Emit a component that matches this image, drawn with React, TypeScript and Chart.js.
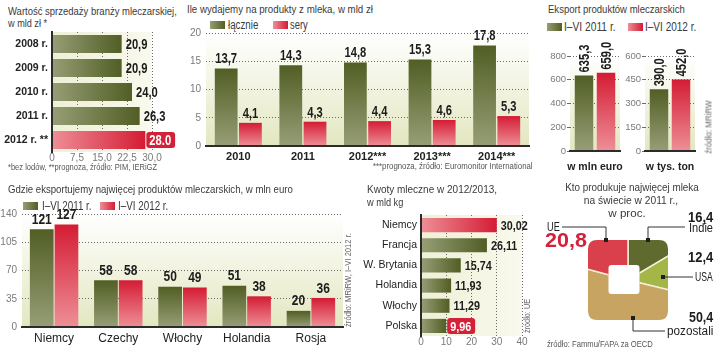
import React, { useEffect, useLayoutEffect, useRef } from 'react';
import { Chart, registerables } from 'chart.js';

Chart.register(...registerables);

const FONT = '"Liberation Sans", Arial, sans-serif';
Chart.defaults.font.family = FONT;

// ---------- DATA ----------
// 1. Wartość sprzedaży branży mleczarskiej
const salesYears = ['2008 r.', '2009 r.', '2010 r.', '2011 r.', '2012 r. **'];
const salesValues = [20.9, 20.9, 24.0, 26.3, 28.0];
const salesLabels = ['20,9', '20,9', '24,0', '26,3', '28.0'];
const salesTicks = ['0', '7,5', '15,0', '22,5', '30,0'];

// 2. Ile wydajemy na produkty z mleka
const spendYears = ['2010', '2011', '2012***', '2013***', '2014***'];
const spendTotal = [13.7, 14.3, 14.8, 15.3, 17.8];
const spendCheese = [4.1, 4.3, 4.4, 4.6, 5.3];

// 3. Eksport produktów mleczarskich
const exportEuroCat = ['w mln euro'];
const exportEuro2011 = [635.3];
const exportEuro2012 = [659.0];
const exportTonCat = ['w tys. ton'];
const exportTon2011 = [390.0];
const exportTon2012 = [452.0];

// 4. Gdzie eksportujemy
const destCountries = ['Niemcy', 'Czechy', 'Włochy', 'Holandia', 'Rosja'];
const dest2011 = [121, 58, 50, 51, 20];
const dest2012 = [127, 58, 49, 38, 36];

// 5. Kwoty mleczne
const quotaCountries = ['Niemcy', 'Francja', 'W. Brytania', 'Holandia', 'Włochy', 'Polska'];
const quotaValues = [30.02, 26.11, 15.74, 11.93, 11.29, 9.96];

// 6. Kto produkuje najwięcej mleka
const prodRegions = ['Indie', 'USA', 'pozostali', 'UE'];
const prodShares = [16.4, 12.4, 50.4, 20.8];

// ---------- STYLE ----------
const GREEN: [string, string] = ['#515e24', '#979e76'];
const RED: [string, string] = ['#d41c34', '#ee8f97'];
const RED_BOX = '#d3213a';
const PIE_COLORS = ['#5e6a2e', '#a5b648', '#c8a462', '#d9404c'];
const TICK_COLOR = '#7a7a7a';
const GRID_COLOR = '#6a6a6a';
const AXIS_COLOR = '#2b2b2b';
const CONDENSE = 0.8;

const f1 = (v: number) => v.toFixed(1).replace('.', ',');
const f2 = (v: number) => v.toFixed(2).replace('.', ',');
const f0 = (v: number) => String(Math.round(v));

function vGrad(c: any, col: [string, string]) {
  const chart = c.chart;
  const y = chart.scales && chart.scales.y;
  if (c.type !== 'data' || !chart.chartArea || !y) return col[0];
  const v = c.raw as number;
  const top = y.getPixelForValue(v);
  const bottom = y.getPixelForValue(0);
  if (!isFinite(top) || !isFinite(bottom) || top === bottom) return col[0];
  const g = chart.ctx.createLinearGradient(0, top, 0, bottom);
  g.addColorStop(0, col[0]);
  g.addColorStop(1, col[1]);
  return g;
}

function hGrad(c: any, col: [string, string]) {
  const chart = c.chart;
  const x = chart.scales && chart.scales.x;
  if (c.type !== 'data' || !chart.chartArea || !x) return col[0];
  const v = c.raw as number;
  const left = x.getPixelForValue(0);
  const right = x.getPixelForValue(v);
  if (!isFinite(left) || !isFinite(right) || left === right) return col[0];
  const g = chart.ctx.createLinearGradient(left, 0, right, 0);
  g.addColorStop(0, col[1]);
  g.addColorStop(1, col[0]);
  return g;
}

function rrPath(ctx: CanvasRenderingContext2D, x: number, y: number, w: number, h: number, r: number) {
  ctx.moveTo(x + r, y);
  ctx.lineTo(x + w - r, y);
  ctx.quadraticCurveTo(x + w, y, x + w, y + r);
  ctx.lineTo(x + w, y + h - r);
  ctx.quadraticCurveTo(x + w, y + h, x + w - r, y + h);
  ctx.lineTo(x + r, y + h);
  ctx.quadraticCurveTo(x, y + h, x, y + h - r);
  ctx.lineTo(x, y + r);
  ctx.quadraticCurveTo(x, y, x + r, y);
  ctx.closePath();
}

function bgPlugin(dir: 'v' | 'h') {
  return {
    id: 'bgfill',
    beforeDraw(chart: any) {
      const { ctx, chartArea: a } = chart;
      if (!a) return;
      let g;
      if (dir === 'v') {
        g = ctx.createLinearGradient(0, a.top, 0, a.bottom);
        g.addColorStop(0, '#ffffff');
        g.addColorStop(1, '#e3e7c0');
      } else {
        g = ctx.createLinearGradient(a.left, 0, a.right, 0);
        g.addColorStop(0, '#eef0d6');
        g.addColorStop(1, '#f9f9ee');
      }
      ctx.save();
      ctx.fillStyle = g;
      ctx.fillRect(a.left, a.top, a.right - a.left, a.bottom - a.top);
      ctx.restore();
    },
  };
}

type ValCfg = { texts: string[][]; mode: 'top' | 'right' | 'rot'; font: string; hi?: [number, number][] };
function valuePlugin(cfg: ValCfg) {
  return {
    id: 'values',
    afterDatasetsDraw(chart: any) {
      const ctx: CanvasRenderingContext2D = chart.ctx;
      chart.data.datasets.forEach((_: any, di: number) => {
        chart.getDatasetMeta(di).data.forEach((el: any, i: number) => {
          const txt = cfg.texts[di][i];
          ctx.save();
          ctx.font = cfg.font;
          ctx.fillStyle = '#1c1c1c';
          if (cfg.mode === 'top') {
            ctx.translate(el.x, el.y - 2);
            ctx.scale(CONDENSE, 1);
            ctx.textAlign = 'center';
            ctx.textBaseline = 'bottom';
            ctx.fillText(txt, 0, 0);
          } else if (cfg.mode === 'rot') {
            ctx.translate(el.x, el.y - 3);
            ctx.rotate(-Math.PI / 2);
            ctx.scale(CONDENSE, 1);
            ctx.textAlign = 'left';
            ctx.textBaseline = 'middle';
            ctx.fillText(txt, 0, 1);
          } else {
            const hi = cfg.hi && cfg.hi.some(([d, j]) => d === di && j === i);
            ctx.textAlign = 'left';
            ctx.textBaseline = 'middle';
            const w = ctx.measureText(txt).width * CONDENSE;
            if (hi) {
              ctx.fillStyle = RED_BOX;
              ctx.beginPath();
              rrPath(ctx, el.x + 1, el.y - 8, w + 7, 16, 3);
              ctx.fill();
              ctx.fillStyle = '#ffffff';
            }
            ctx.translate(el.x + 4, el.y + 1);
            ctx.scale(CONDENSE, 1);
            ctx.fillText(txt, 0, 0);
          }
          ctx.restore();
        });
      });
    },
  };
}

const hideZero = (c: any) => (c.tick && c.tick.value === 0 ? 'rgba(0,0,0,0)' : GRID_COLOR);
const tickFont = { size: 10, family: FONT };
const base = {
  responsive: false,
  animation: false as const,
  devicePixelRatio: 1,
  events: [] as any[],
};
const noPlugins = { legend: { display: false }, tooltip: { enabled: false } };
const noRot = { maxRotation: 0, minRotation: 0, autoSkip: false };
const fixWidth = (w: number) => (s: any) => {
  s.width = w;
  s.paddingTop = 0;
  s.paddingBottom = 0;
};

// ---------- CHART CONFIGS ----------
function makeSales(): any {
  return {
    type: 'bar',
    data: {
      labels: salesYears,
      datasets: [
        {
          data: salesValues,
          backgroundColor: (c: any) => hGrad(c, c.dataIndex === salesValues.length - 1 ? RED : GREEN),
          categoryPercentage: 1,
          barPercentage: 0.74,
          borderWidth: 0,
        },
      ],
    },
    options: {
      ...base,
      indexAxis: 'y',
      layout: { padding: { top: 7, right: 28, left: 0, bottom: 0 } },
      plugins: noPlugins,
      scales: {
        x: {
          min: 0,
          max: 30,
          ticks: { ...noRot, stepSize: 7.5, callback: (_v: any, i: number) => salesTicks[i], font: tickFont, color: TICK_COLOR, padding: 0 },
          grid: { color: hideZero, drawTicks: false },
          border: { display: false, dash: [1, 2] },
          afterFit: (s: any) => { s.height = 18; },
        },
        y: {
          ticks: { font: { size: 10.5, weight: 'bold', family: FONT }, color: '#222', padding: 4 },
          grid: { display: false, drawTicks: false },
          border: { display: true, color: AXIS_COLOR, width: 2, z: 1 },
          afterFit: fixWidth(52),
        },
      },
    },
    plugins: [
      bgPlugin('h'),
      valuePlugin({ texts: [salesLabels], mode: 'right', font: `bold 14px ${FONT}`, hi: [[0, salesValues.length - 1]] }),
    ],
  };
}

function makeSpend(): any {
  return {
    type: 'bar',
    data: {
      labels: spendYears,
      datasets: [
        { label: 'łącznie', data: spendTotal, backgroundColor: (c: any) => vGrad(c, GREEN), categoryPercentage: 0.75, barPercentage: 0.94, borderWidth: 0 },
        { label: 'sery', data: spendCheese, backgroundColor: (c: any) => vGrad(c, RED), categoryPercentage: 0.75, barPercentage: 0.94, borderWidth: 0 },
      ],
    },
    options: {
      ...base,
      layout: { padding: { top: 13, right: 3, left: 0, bottom: 0 } },
      plugins: noPlugins,
      scales: {
        x: {
          grid: { display: false, drawTicks: false },
          border: { display: true, color: AXIS_COLOR, width: 2, z: 1 },
          ticks: { ...noRot, font: { size: 11, weight: 'bold', family: FONT }, color: '#222', padding: 4 },
          afterFit: (s: any) => { s.height = 24; },
        },
        y: {
          min: 0,
          max: 20,
          ticks: { stepSize: 5, font: tickFont, color: TICK_COLOR, padding: 5 },
          grid: { color: hideZero, drawTicks: false },
          border: { display: false, dash: [1, 2] },
          afterFit: (s: any) => { s.width = 26; },
        },
      },
    },
    plugins: [
      bgPlugin('v'),
      valuePlugin({ texts: [spendTotal.map(f1), spendCheese.map(f1)], mode: 'top', font: `bold 14px ${FONT}` }),
    ],
  };
}

function makeExport(cat: string[], d1: number[], d2: number[], max: number, step: number, padL: number, padR: number): any {
  return {
    type: 'bar',
    data: {
      labels: cat,
      datasets: [
        { label: 'I–VI 2011 r.', data: d1, backgroundColor: (c: any) => vGrad(c, GREEN), categoryPercentage: 0.88, barPercentage: 0.84, borderWidth: 0 },
        { label: 'I–VI 2012 r.', data: d2, backgroundColor: (c: any) => vGrad(c, RED), categoryPercentage: 0.88, barPercentage: 0.84, borderWidth: 0 },
      ],
    },
    options: {
      ...base,
      layout: { padding: { top: 26, right: padR, left: 0, bottom: 0 } },
      plugins: noPlugins,
      scales: {
        x: {
          grid: { display: false, drawTicks: false },
          border: { display: true, color: AXIS_COLOR, width: 2, z: 1 },
          ticks: { ...noRot, font: { size: 10.5, weight: 'bold', family: FONT }, color: '#222', padding: 10 },
          afterFit: (s: any) => { s.height = 29; },
        },
        y: {
          min: 0,
          max,
          ticks: { stepSize: step, font: { size: 9.5, family: FONT }, color: TICK_COLOR, padding: 1 },
          grid: { color: hideZero, drawTicks: true, tickLength: 3, tickColor: GRID_COLOR },
          border: { display: false, dash: [1, 2] },
          afterFit: (s: any) => { s.width = padL; },
        },
      },
    },
    plugins: [
      bgPlugin('v'),
      valuePlugin({ texts: [d1.map(f1), d2.map(f1)], mode: 'rot', font: `bold 14px ${FONT}` }),
    ],
  };
}

function makeDest(): any {
  return {
    type: 'bar',
    data: {
      labels: destCountries,
      datasets: [
        { label: 'I–VI 2011 r.', data: dest2011, backgroundColor: (c: any) => vGrad(c, GREEN), categoryPercentage: 0.77, barPercentage: 0.96, borderWidth: 0 },
        { label: 'I–VI 2012 r.', data: dest2012, backgroundColor: (c: any) => vGrad(c, RED), categoryPercentage: 0.77, barPercentage: 0.96, borderWidth: 0 },
      ],
    },
    options: {
      ...base,
      layout: { padding: { top: 14, right: 9, left: 0, bottom: 0 } },
      plugins: noPlugins,
      scales: {
        x: {
          grid: { display: false, drawTicks: false },
          border: { display: true, color: AXIS_COLOR, width: 2, z: 1 },
          ticks: { ...noRot, font: { size: 12, family: FONT }, color: '#222', padding: 4 },
          afterFit: (s: any) => { s.height = 23; },
        },
        y: {
          min: 0,
          max: 140,
          ticks: { stepSize: 35, font: tickFont, color: TICK_COLOR, padding: 5 },
          grid: { color: hideZero, drawTicks: false },
          border: { display: false, dash: [1, 2] },
          afterFit: (s: any) => { s.width = 22; },
        },
      },
    },
    plugins: [
      bgPlugin('v'),
      valuePlugin({ texts: [dest2011.map(f0), dest2012.map(f0)], mode: 'top', font: `bold 15px ${FONT}` }),
    ],
  };
}

function makeQuota(): any {
  return {
    type: 'bar',
    data: {
      labels: quotaCountries,
      datasets: [
        {
          data: quotaValues,
          backgroundColor: (c: any) => hGrad(c, c.dataIndex === 0 ? RED : GREEN),
          categoryPercentage: 1,
          barPercentage: 0.7,
          borderWidth: 0,
        },
      ],
    },
    options: {
      ...base,
      indexAxis: 'y',
      layout: { padding: { top: 5, right: 8, left: 0, bottom: 0 } },
      plugins: noPlugins,
      scales: {
        x: {
          min: 0,
          max: 40,
          ticks: { ...noRot, stepSize: 10, font: tickFont, color: TICK_COLOR, padding: 0 },
          grid: { color: hideZero, drawTicks: false },
          border: { display: false, dash: [1, 2] },
          afterFit: (s: any) => { s.height = 14; },
        },
        y: {
          ticks: { font: { size: 10.5, family: FONT }, color: '#222', padding: 4 },
          grid: { display: false, drawTicks: false },
          border: { display: true, color: AXIS_COLOR, width: 2, z: 1 },
          afterFit: fixWidth(61),
        },
      },
    },
    plugins: [
      bgPlugin('h'),
      valuePlugin({ texts: [quotaValues.map(f2)], mode: 'right', font: `bold 13.5px ${FONT}`, hi: [[0, quotaValues.length - 1]] }),
    ],
  };
}

const ringClip = {
  id: 'ringClip',
  beforeDatasetsDraw(chart: any) {
    const ctx: CanvasRenderingContext2D = chart.ctx;
    const arc = chart.getDatasetMeta(0).data[0];
    if (!arc) return;
    const cx = arc.x;
    const cy = arc.y;
    ctx.save();
    ctx.beginPath();
    rrPath(ctx, cx - 40, cy - 40, 80, 80, 9);
    rrPath(ctx, cx - 19.5, cy - 15, 31, 29, 3);
    ctx.clip('evenodd');
  },
  afterDatasetsDraw(chart: any) {
    chart.ctx.restore();
  },
};

function makeProd(): any {
  return {
    type: 'pie',
    data: {
      labels: prodRegions,
      datasets: [{ data: prodShares, backgroundColor: PIE_COLORS, borderColor: '#f6eed6', borderWidth: 1.5 }],
    },
    options: {
      ...base,
      layout: { padding: 0 },
      plugins: noPlugins,
    },
    plugins: [ringClip],
  };
}

// ---------- COMPONENTS ----------
function ChartCanvas({ x, y, w, h, make }: { x: number; y: number; w: number; h: number; make: () => any }) {
  const ref = useRef<HTMLCanvasElement>(null);
  useEffect(() => {
    const chart = new Chart(ref.current as HTMLCanvasElement, make());
    return () => chart.destroy();
  }, []);
  return <canvas ref={ref} width={w} height={h} style={{ position: 'absolute', left: x, top: y, width: w, height: h }} />;
}

// Text fitted horizontally to the width it has in the reference (emulates the narrow newspaper font)
function T({ x, y, w, children, size = 11, bold = false, color = '#3a3a3a', align = 'left' }: any) {
  const ref = useRef<HTMLDivElement>(null);
  const pre = align === 'center' ? 'translateX(-50%) ' : '';
  useLayoutEffect(() => {
    const el = ref.current;
    if (!el || !w) return;
    const actual = el.offsetWidth;
    if (actual > 0) el.style.transform = `${pre}scaleX(${w / actual})`;
  }, []);
  const style: any = {
    position: 'absolute',
    top: y - size * 0.6,
    fontSize: size,
    lineHeight: `${size * 1.2}px`,
    fontWeight: bold ? 700 : 400,
    color,
    whiteSpace: 'nowrap',
    fontFamily: FONT,
    transform: pre || undefined,
    transformOrigin: align === 'left' ? 'left center' : align === 'right' ? 'right center' : 'center center',
  };
  if (align === 'left') style.left = x;
  else if (align === 'right') style.right = 720 - x;
  else style.left = x;
  return (
    <div ref={ref} style={style}>
      {children}
    </div>
  );
}

function R({ x, y, len, children, size = 9 }: any) {
  const ref = useRef<HTMLDivElement>(null);
  useLayoutEffect(() => {
    const el = ref.current;
    if (!el) return;
    const actual = el.offsetWidth;
    if (actual > 0) el.style.transform = `translate(-50%, -50%) rotate(-90deg) scaleX(${len / actual})`;
  }, []);
  return (
    <div
      ref={ref}
      style={{
        position: 'absolute',
        left: x,
        top: y,
        fontSize: size,
        lineHeight: `${size + 2}px`,
        color: '#666',
        whiteSpace: 'nowrap',
        fontFamily: FONT,
        transform: 'translate(-50%, -50%) rotate(-90deg)',
      }}
    >
      {children}
    </div>
  );
}

function Sw({ x, y, col }: { x: number; y: number; col: [string, string] }) {
  return (
    <div
      style={{
        position: 'absolute',
        left: x,
        top: y - 4,
        width: 15,
        height: 8,
        background: `linear-gradient(to right, ${col[1]}, ${col[0]})`,
      }}
    />
  );
}

export default function App() {
  return (
    <div style={{ position: 'absolute', left: 0, top: 0, width: 720, height: 359, background: '#fff', overflow: 'hidden', fontFamily: FONT }}>
      {/* Chart 1 */}
      <T x={8} y={12} w={169}>Wartość sprzedaży branży mleczarskiej,</T>
      <T x={8} y={24} w={39}>w mld zł *</T>
      <ChartCanvas x={0} y={25} w={180} h={145} make={makeSales} />
      <T x={8} y={167} w={149} size={9} color="#555">*bez lodów, **prognoza, źródło: PIM, IERiGZ</T>

      {/* Chart 2 */}
      <T x={187} y={10} w={186}>Ile wydajemy na produkty z mleka, w mld zł</T>
      <Sw x={210} y={25} col={GREEN} />
      <T x={228} y={25} w={30} size={12}>łącznie</T>
      <Sw x={273} y={25} col={RED} />
      <T x={290} y={25} w={18} size={12}>sery</T>
      <ChartCanvas x={180} y={20} w={352} h={150} make={makeSpend} />
      <T x={533} y={166} w={160} size={9} color="#555" align="right">***prognoza, źródło: Euromonitor International</T>

      {/* Chart 3 */}
      <T x={548} y={10} w={137}>Eksport produktów mleczarskich</T>
      <Sw x={547} y={27} col={GREEN} />
      <T x={564} y={27} w={52} size={12}>I–VI 2011 r.</T>
      <Sw x={628} y={27} col={RED} />
      <T x={645} y={27} w={51} size={12}>I–VI 2012 r.</T>
      <ChartCanvas x={540} y={30} w={110} h={150} make={() => makeExport(exportEuroCat, exportEuro2011, exportEuro2012, 800, 200, 30, 30)} />
      <ChartCanvas x={615} y={30} w={105} h={150} make={() => makeExport(exportTonCat, exportTon2011, exportTon2012, 600, 150, 30, 25)} />
      <R x={709} y={127} len={53}>źródło: MRiRW</R>

      {/* Chart 4 */}
      <T x={8} y={190} w={285}>Gdzie eksportujemy najwięcej produktów mleczarskich, w mln euro</T>
      <Sw x={23} y={206} col={GREEN} />
      <T x={42} y={206} w={50} size={12}>I–VI 2011 r.</T>
      <Sw x={100} y={206} col={RED} />
      <T x={118} y={206} w={50} size={12}>I–VI 2012 r.</T>
      <ChartCanvas x={0} y={200} w={352} h={150} make={makeDest} />
      <R x={348} y={280} len={94}>źródło: MRiRW, I–VI 2012 r.</R>

      {/* Chart 5 */}
      <T x={367} y={190} w={130}>Kwoty mleczne w 2012/2013,</T>
      <T x={367} y={203} w={36}>w mld kg</T>
      <ChartCanvas x={360} y={210} w={170} h={140} make={makeQuota} />
      <R x={527} y={316} len={34}>źródło: UE</R>

      {/* Chart 6 */}
      <T x={632} y={188} w={134} align="center">Kto produkuje najwięcej mleka</T>
      <T x={631} y={201} w={94} align="center">na świecie w 2011 r.,</T>
      <T x={627} y={214} w={37} align="center">w proc.</T>
      <ChartCanvas x={568} y={220} w={120} h={120} make={makeProd} />
      <svg width={720} height={359} style={{ position: 'absolute', left: 0, top: 0, pointerEvents: 'none' }}>
        <polyline points="562,227 606,227 606,240" fill="none" stroke="#333" strokeWidth={1} />
        <rect x={604} y={238} width={4} height={4} fill="#1e1e1e" />
        <polyline points="685,227 648,227 648,240" fill="none" stroke="#333" strokeWidth={1} />
        <rect x={646} y={238} width={4} height={4} fill="#1e1e1e" />
        <polyline points="693,277 663,277" fill="none" stroke="#333" strokeWidth={1} />
        <rect x={661} y={275} width={4} height={4} fill="#1e1e1e" />
        <polyline points="633,318 633,331 665,331" fill="none" stroke="#333" strokeWidth={1} />
        <rect x={631} y={316} width={4} height={4} fill="#1e1e1e" />
      </svg>
      <T x={547} y={227} w={13} size={12} color="#222">UE</T>
      <T x={545} y={240} w={42} size={21} bold color={RED_BOX}>20,8</T>
      <T x={713} y={217} w={25} size={14} bold color="#1c1c1c" align="right">16,4</T>
      <T x={713} y={228} w={24} size={12} color="#222" align="right">Indie</T>
      <T x={713} y={257} w={25} size={14} bold color="#1c1c1c" align="right">12,4</T>
      <T x={713} y={277} w={18} size={12} color="#222" align="right">USA</T>
      <T x={713} y={317} w={24} size={14} bold color="#1c1c1c" align="right">50,4</T>
      <T x={713} y={331} w={46} size={12} color="#222" align="right">pozostali</T>
      <T x={547} y={344} w={106} size={9.5} color="#555">źródło: Fammu/FAPA za OECD</T>
    </div>
  );
}
